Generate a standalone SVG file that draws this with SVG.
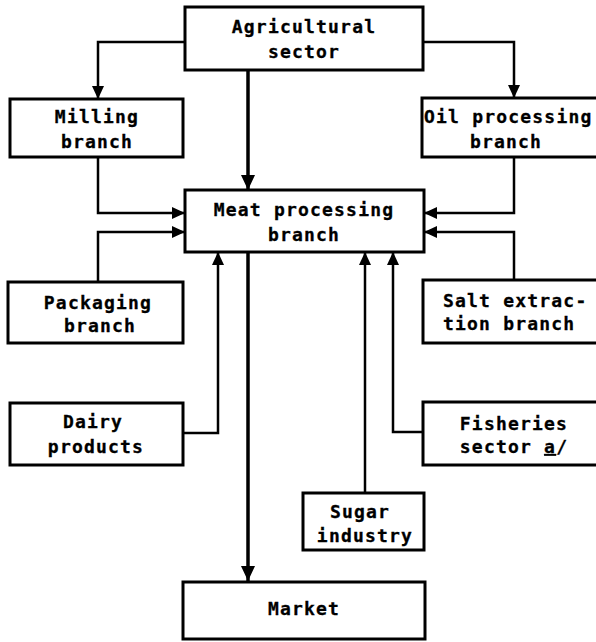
<svg xmlns="http://www.w3.org/2000/svg" width="596" height="642" viewBox="0 0 596 642">
  <style>
    .box { fill: #fff; stroke: #000; stroke-width: 3; }
    .lbl { font-family: "DejaVu Sans Mono", "Liberation Mono", monospace; font-weight: bold; font-size: 18px; letter-spacing: 1.2px; fill: #000; stroke: #000; stroke-width: 0.3; }
    .mid { text-anchor: middle; }
    .wire { fill: none; stroke: #000; stroke-width: 2.5; }
    .main { fill: none; stroke: #000; stroke-width: 3.5; }
  </style>
  <defs>
    <marker id="arrow" markerUnits="userSpaceOnUse" markerWidth="14" markerHeight="12" refX="13" refY="6" orient="auto">
      <path d="M0,0 L13,6 L0,12 Z" fill="#000"/>
    </marker>
    <marker id="arrowBig" markerUnits="userSpaceOnUse" markerWidth="16" markerHeight="14" refX="15" refY="7" orient="auto">
      <path d="M0,0 L15,7 L0,14 Z" fill="#000"/>
    </marker>
  </defs>

  <rect width="596" height="642" fill="#fff"/>

  <!-- connectors -->
  <g id="connectors">
    <path class="wire" d="M185,42 H98 V99" marker-end="url(#arrow)"/>
    <path class="wire" d="M423,42 H514 V98" marker-end="url(#arrow)"/>
    <path class="main" d="M248,70 V190" marker-end="url(#arrowBig)"/>
    <path class="wire" d="M98,157 V213 H185" marker-end="url(#arrow)"/>
    <path class="wire" d="M98,282 V232 H185" marker-end="url(#arrow)"/>
    <path class="wire" d="M183,433 H218 V252" marker-end="url(#arrow)"/>
    <path class="wire" d="M514,157 V213 H424" marker-end="url(#arrow)"/>
    <path class="wire" d="M514,280 V232 H424" marker-end="url(#arrow)"/>
    <path class="wire" d="M365,493 V252" marker-end="url(#arrow)"/>
    <path class="wire" d="M423,432 H393 V252" marker-end="url(#arrow)"/>
    <path class="main" d="M248,252 V581" marker-end="url(#arrowBig)"/>
  </g>

  <g id="agricultural">
    <rect class="box" x="185" y="7" width="238" height="63"/>
    <text class="lbl mid" x="304" y="33">Agricultural</text>
    <text class="lbl mid" x="304" y="58">sector</text>
  </g>

  <g id="milling">
    <rect class="box" x="10" y="99" width="173" height="58"/>
    <text class="lbl mid" x="97" y="123">Milling</text>
    <text class="lbl mid" x="97" y="148">branch</text>
  </g>

  <g id="oil">
    <rect class="box" x="422" y="98" width="180" height="59"/>
    <text class="lbl" x="424" y="123" letter-spacing="0.8">Oil processing</text>
    <text class="lbl mid" x="506" y="148">branch</text>
  </g>

  <g id="meat">
    <rect class="box" x="185" y="190" width="239" height="62"/>
    <text class="lbl mid" x="304" y="216">Meat processing</text>
    <text class="lbl mid" x="304" y="241">branch</text>
  </g>

  <g id="packaging">
    <rect class="box" x="8" y="282" width="175" height="61"/>
    <text class="lbl mid" x="98" y="309">Packaging</text>
    <text class="lbl mid" x="100" y="332">branch</text>
  </g>

  <g id="salt">
    <rect class="box" x="423" y="280" width="179" height="63"/>
    <text class="lbl" x="443" y="307">Salt extrac-</text>
    <text class="lbl" x="443" y="330">tion branch</text>
  </g>

  <g id="dairy">
    <rect class="box" x="10" y="403" width="173" height="62"/>
    <text class="lbl mid" x="93" y="428">Dairy</text>
    <text class="lbl mid" x="96" y="453">products</text>
  </g>

  <g id="fisheries">
    <rect class="box" x="423" y="402" width="179" height="63"/>
    <text class="lbl mid" x="514" y="430">Fisheries</text>
    <text class="lbl mid" x="514" y="453">sector <tspan text-decoration="underline">a</tspan>/</text>
  </g>

  <g id="sugar">
    <rect class="box" x="303" y="493" width="121" height="57"/>
    <text class="lbl mid" x="360" y="518">Sugar</text>
    <text class="lbl mid" x="365" y="542">industry</text>
  </g>

  <g id="market">
    <rect class="box" x="183" y="582" width="242" height="57"/>
    <text class="lbl mid" x="304" y="615">Market</text>
  </g>
</svg>
